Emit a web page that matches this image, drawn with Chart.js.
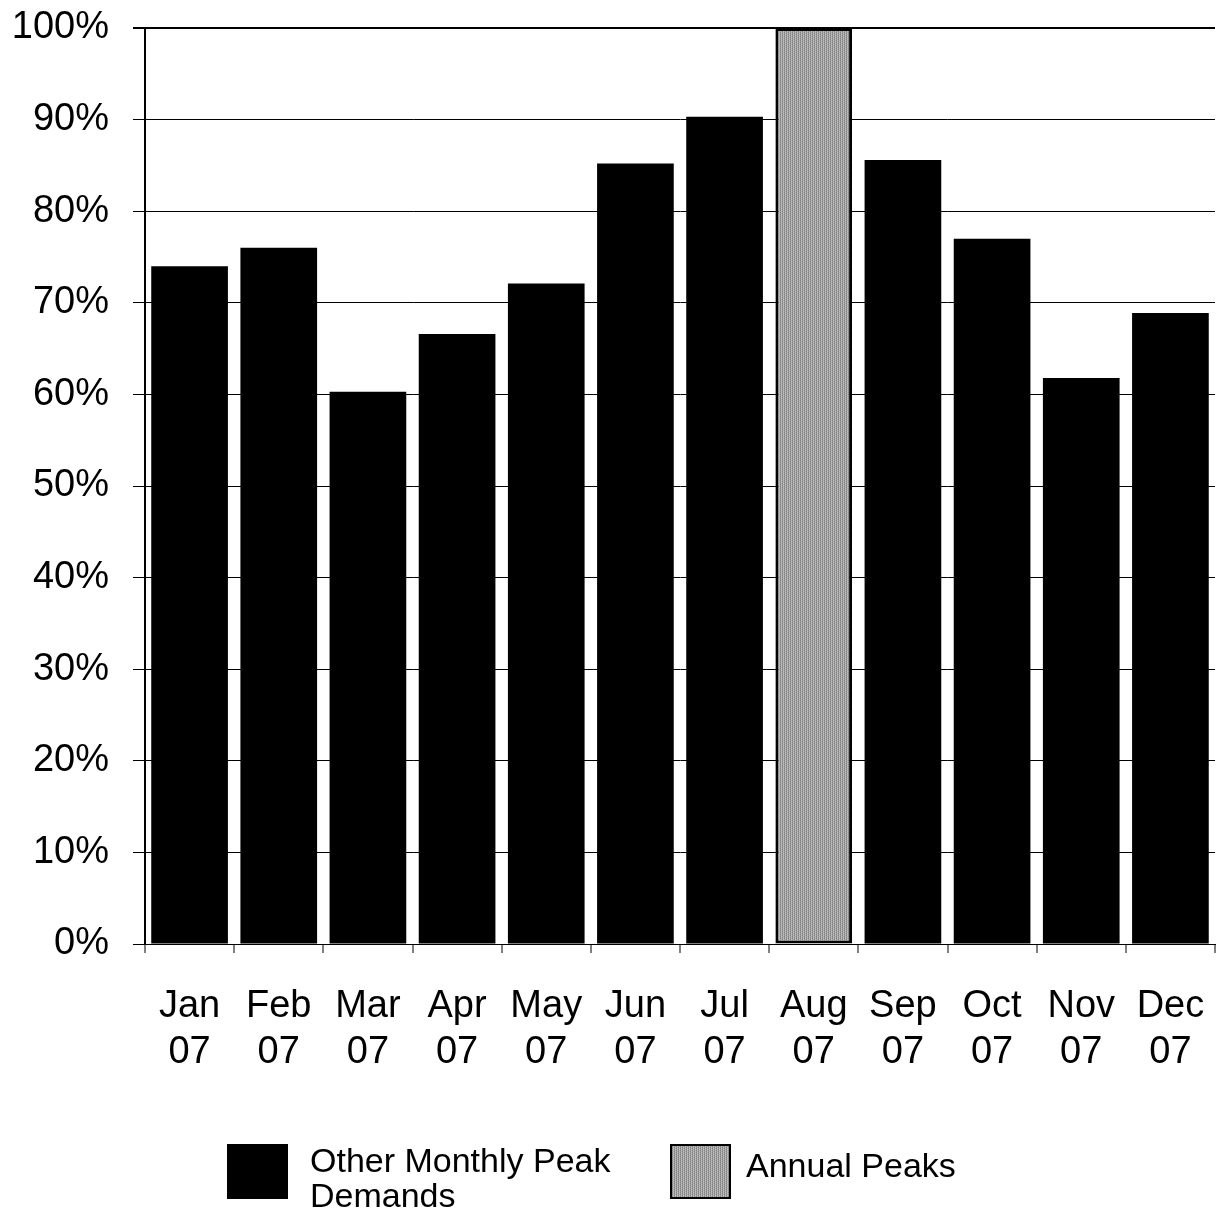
<!DOCTYPE html>
<html>
<head>
<meta charset="utf-8">
<script src="https://cdn.jsdelivr.net/npm/chart.js@4.4.1/dist/chart.umd.min.js"></script>
<style>
  html, body { margin: 0; padding: 0; background: #fff; }
  #wrap { width: 1222px; height: 1214px; }
</style>
</head>
<body>
<div id="wrap"><canvas id="c" width="1222" height="1214"></canvas></div>
<script>
// Monthly peak demand as a share of the annual peak, 2007
const months = ["Jan", "Feb", "Mar", "Apr", "May", "Jun", "Jul", "Aug", "Sep", "Oct", "Nov", "Dec"];
const yearLabel = "07";
const otherMonthlyPeaks = [74.0, 76.0, 60.3, 66.6, 72.1, 85.2, 90.3, null, 85.6, 77.0, 61.8, 68.9];
const annualPeaks = [null, null, null, null, null, null, null, 100, null, null, null, null];
const yTicks = [0, 10, 20, 30, 40, 50, 60, 70, 80, 90, 100];

const categoryLabels = months.map(m => [m, yearLabel]);

// halftone-like grey fill for the annual peak bar
function makeHalftone() {
  const c = document.createElement("canvas");
  c.width = 4; c.height = 4;
  const g = c.getContext("2d");
  const tones = ["#7e7e7e", "#c2c2c2", "#989898", "#b0b0b0"];
  for (let y = 0; y < 4; y++) {
    for (let x = 0; x < 4; x++) {
      g.fillStyle = tones[(x + y * 2) % 4];
      g.fillRect(x, y, 1, 1);
    }
  }
  return g.createPattern(c, "repeat");
}
const ctx = document.getElementById("c").getContext("2d");
const greyFill = makeHalftone();

const FONT = "'Liberation Sans', Arial, sans-serif";

// legend drawn under the plot, wrapping long labels onto two lines
const bottomLegend = {
  id: "bottomLegend",
  afterDraw(chart) {
    const g = chart.ctx;
    const items = [
      { x: 227, textX: 310, textY: 1172, ds: chart.data.datasets[0], maxW: 330 },
      { x: 670, textX: 746, textY: 1177, ds: chart.data.datasets[1], maxW: 400 }
    ];
    g.save();
    g.font = "34px " + FONT;
    g.textBaseline = "alphabetic";
    g.textAlign = "left";
    items.forEach(it => {
      g.fillStyle = it.ds.backgroundColor;
      g.fillRect(it.x, 1144, 61, 55);
      if (it.ds.borderWidth) {
        g.strokeStyle = "#000";
        g.lineWidth = 2;
        g.strokeRect(it.x + 1, 1145, 59, 53);
      }
      const words = it.ds.label.split(" ");
      const lines = [];
      let cur = "";
      words.forEach(w => {
        const t = cur ? cur + " " + w : w;
        if (g.measureText(t).width > it.maxW && cur) { lines.push(cur); cur = w; }
        else cur = t;
      });
      lines.push(cur);
      g.fillStyle = "#000";
      lines.forEach((ln, i) => g.fillText(ln, it.textX, it.textY + i * 35));
    });
    g.restore();
  }
};

new Chart(ctx, {
  type: "bar",
  data: {
    labels: categoryLabels,
    datasets: [
      {
        label: "Other Monthly Peak Demands",
        data: otherMonthlyPeaks,
        backgroundColor: "#000",
        borderWidth: 0,
        barPercentage: 0.86,
        categoryPercentage: 1.0
      },
      {
        label: "Annual Peaks",
        data: annualPeaks,
        backgroundColor: greyFill,
        borderColor: "#000",
        borderWidth: 3,
        borderSkipped: false,
        barPercentage: 0.86,
        categoryPercentage: 1.0
      }
    ]
  },
  options: {
    responsive: false,
    animation: false,
    devicePixelRatio: 1,
    layout: { padding: { top: 28, right: 7, bottom: 150, left: 0 } },
    plugins: {
      legend: { display: false },
      tooltip: { enabled: false }
    },
    scales: {
      x: {
        stacked: true,
        offset: true,
        afterFit(scale) {
          scale.height = 120;
          scale.paddingLeft = 0;
          scale.paddingRight = 0;
        },
        grid: {
          offset: true,
          drawOnChartArea: true,
          color: c => (c.index === 12 ? "#000" : "rgba(0,0,0,0)"),
          lineWidth: 2,
          tickColor: "#000",
          tickLength: 9,
          tickWidth: 1
        },
        border: { display: true, color: "#000", width: 1 },
        ticks: {
          color: "#000",
          font: { family: FONT, size: 38 },
          padding: 31,
          maxRotation: 0,
          autoSkip: false
        }
      },
      y: {
        stacked: true,
        min: 0,
        max: 100,
        afterFit(scale) {
          scale.width = 145;
          scale.paddingTop = 0;
          scale.paddingBottom = 0;
        },
        afterBuildTicks(scale) { scale.ticks = yTicks.map(v => ({ value: v })); },
        grid: {
          color: "#000",
          lineWidth: c => (c.index === 10 ? 2 : 1),
          tickColor: "#000",
          tickLength: 12
        },
        border: { display: true, color: "#000", width: 2 },
        ticks: {
          color: "#000",
          font: { family: FONT, size: 38 },
          padding: 24,
          callback: v => v + "%"
        }
      }
    }
  },
  plugins: [bottomLegend]
});
</script>
</body>
</html>
